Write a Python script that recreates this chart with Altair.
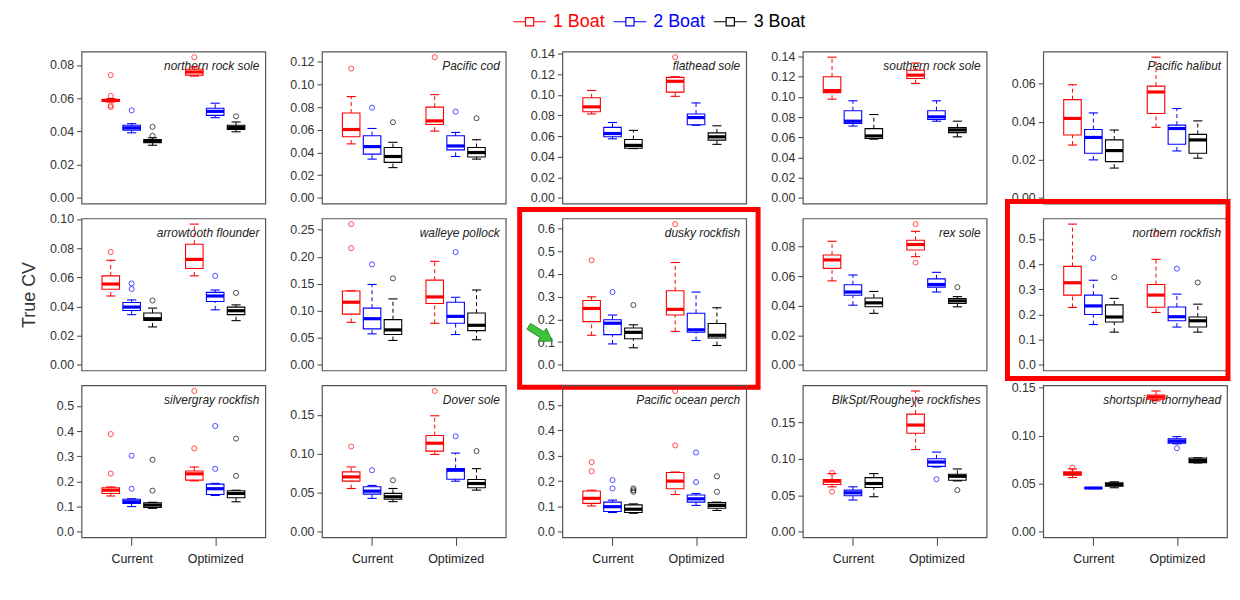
import altair as alt
import pandas as pd

FONT = "Liberation Sans"

species = ["northern rock sole", "Pacific cod", "flathead sole", "southern rock sole", "Pacific halibut",
           "arrowtooth flounder", "walleye pollock", "dusky rockfish", "rex sole", "northern rockfish",
           "silvergray rockfish", "Dover sole", "Pacific ocean perch", "BlkSpt/Rougheye rockfishes",
           "shortspine thornyhead"]
boats = ["1 Boat", "2 Boat", "3 Boat"]
boat_colors = ["#ff0000", "#0000ff", "#000000"]
groups = ["Current", "Optimized"]
group_pos = [2, 6]
highlighted = ["dusky rockfish", "northern rockfish"]

ytick_max = [0.08, 0.12, 0.14, 0.14, 0.06, 0.10, 0.25, 0.6, 0.08, 0.5, 0.5, 0.15, 0.5, 0.15, 0.15]
ytick_step = [0.02, 0.02, 0.02, 0.02, 0.02, 0.02, 0.05, 0.1, 0.02, 0.1, 0.1, 0.05, 0.1, 0.05, 0.05]

# order inside each panel: Current (1, 2, 3 boats), Optimized (1, 2, 3 boats)
whisk_lo = [
    [0.0577, 0.0392, 0.0317, 0.0733, 0.0483, 0.0398],
    [0.0476, 0.0342, 0.0267, 0.0589, 0.0365, 0.0342],
    [0.0815, 0.0574, 0.0479, 0.0986, 0.0705, 0.0520],
    [0.0978, 0.0712, 0.0582, 0.1134, 0.0760, 0.0605],
    [0.0278, 0.0200, 0.0157, 0.0371, 0.0247, 0.0209],
    [0.0472, 0.0344, 0.0260, 0.0610, 0.0377, 0.0303],
    [0.0787, 0.0573, 0.0451, 0.0769, 0.0561, 0.0464],
    [0.130, 0.092, 0.075, 0.147, 0.107, 0.085],
    [0.0567, 0.0403, 0.0348, 0.0731, 0.0492, 0.0392],
    [0.228, 0.160, 0.130, 0.208, 0.150, 0.130],
    [0.142, 0.100, 0.093, 0.202, 0.144, 0.119],
    [0.0555, 0.0428, 0.0386, 0.0992, 0.0649, 0.0534],
    [0.102, 0.076, 0.073, 0.147, 0.104, 0.084],
    [0.0615, 0.0434, 0.0479, 0.1125, 0.0886, 0.0696],
    [0.0564, 0.0450, 0.0458, 0.1362, 0.0915, 0.0716],
]
box_q1 = [
    [0.0582, 0.0408, 0.0333, 0.0739, 0.0497, 0.0412],
    [0.0539, 0.0386, 0.0313, 0.0647, 0.0423, 0.0360],
    [0.0837, 0.0593, 0.0482, 0.1027, 0.0710, 0.0561],
    [0.1043, 0.0738, 0.0588, 0.1183, 0.0777, 0.0647],
    [0.0331, 0.0235, 0.0191, 0.0444, 0.0282, 0.0235],
    [0.0518, 0.0373, 0.0305, 0.0660, 0.0434, 0.0344],
    [0.0939, 0.0665, 0.0561, 0.1135, 0.0769, 0.0634],
    [0.190, 0.133, 0.115, 0.219, 0.143, 0.118],
    [0.0652, 0.0470, 0.0392, 0.0776, 0.0525, 0.0414],
    [0.277, 0.200, 0.170, 0.229, 0.175, 0.150],
    [0.152, 0.112, 0.096, 0.205, 0.148, 0.135],
    [0.0649, 0.0483, 0.0416, 0.1035, 0.0674, 0.0564],
    [0.112, 0.080, 0.076, 0.170, 0.117, 0.093],
    [0.0646, 0.0493, 0.0606, 0.1347, 0.0895, 0.0705],
    [0.0588, 0.0452, 0.0475, 0.1380, 0.0922, 0.0719],
]
box_med = [
    [0.0587, 0.0422, 0.0343, 0.0758, 0.0521, 0.0424],
    [0.0603, 0.0452, 0.0365, 0.0679, 0.0458, 0.0400],
    [0.0884, 0.0625, 0.0510, 0.1132, 0.0780, 0.0593],
    [0.1063, 0.0760, 0.0614, 0.1216, 0.0803, 0.0673],
    [0.0418, 0.0318, 0.0249, 0.0557, 0.0365, 0.0305],
    [0.0554, 0.0396, 0.0316, 0.0723, 0.0472, 0.0371],
    [0.1159, 0.0854, 0.0647, 0.1257, 0.0897, 0.0732],
    [0.248, 0.183, 0.143, 0.244, 0.154, 0.130],
    [0.0709, 0.0492, 0.0419, 0.0813, 0.0543, 0.0432],
    [0.326, 0.234, 0.190, 0.277, 0.191, 0.175],
    [0.165, 0.119, 0.106, 0.230, 0.171, 0.152],
    [0.0704, 0.0521, 0.0449, 0.1136, 0.0789, 0.0619],
    [0.132, 0.099, 0.089, 0.200, 0.130, 0.104],
    [0.0692, 0.0533, 0.0660, 0.1460, 0.0954, 0.0759],
    [0.0605, 0.0455, 0.0492, 0.1403, 0.0943, 0.0743],
]
box_q3 = [
    [0.0592, 0.0437, 0.0352, 0.0774, 0.0540, 0.0437],
    [0.0748, 0.0548, 0.0444, 0.0800, 0.0548, 0.0444],
    [0.0973, 0.0685, 0.0567, 0.1170, 0.0815, 0.0631],
    [0.1200, 0.0864, 0.0686, 0.1264, 0.0864, 0.0696],
    [0.0517, 0.0360, 0.0305, 0.0588, 0.0383, 0.0334],
    [0.0610, 0.0427, 0.0355, 0.0827, 0.0497, 0.0396],
    [0.1366, 0.1049, 0.0836, 0.1568, 0.1159, 0.0958],
    [0.283, 0.198, 0.162, 0.326, 0.227, 0.182],
    [0.0742, 0.0541, 0.0452, 0.0842, 0.0581, 0.0448],
    [0.391, 0.277, 0.238, 0.319, 0.230, 0.190],
    [0.175, 0.129, 0.115, 0.241, 0.189, 0.163],
    [0.0768, 0.0577, 0.0492, 0.1234, 0.0810, 0.0670],
    [0.161, 0.117, 0.106, 0.234, 0.145, 0.115],
    [0.0714, 0.0570, 0.0741, 0.1610, 0.0999, 0.0787],
    [0.0623, 0.0458, 0.0509, 0.1424, 0.0967, 0.0767],
]
whisk_hi = [
    [0.0598, 0.0447, 0.0362, 0.0788, 0.0570, 0.0457],
    [0.0893, 0.0612, 0.0490, 0.0910, 0.0577, 0.0513],
    [0.1043, 0.0732, 0.0656, 0.1176, 0.0922, 0.0700],
    [0.1394, 0.0962, 0.0826, 0.1336, 0.0962, 0.0760],
    [0.0595, 0.0447, 0.0357, 0.0740, 0.0470, 0.0405],
    [0.0717, 0.0445, 0.0389, 0.0965, 0.0513, 0.0411],
    [0.1370, 0.1488, 0.1220, 0.1915, 0.1250, 0.1385],
    [0.299, 0.219, 0.176, 0.450, 0.320, 0.251],
    [0.0835, 0.0607, 0.0496, 0.0902, 0.0625, 0.0461],
    [0.559, 0.336, 0.264, 0.419, 0.281, 0.241],
    [0.178, 0.131, 0.117, 0.257, 0.192, 0.165],
    [0.0831, 0.0594, 0.0555, 0.1488, 0.1009, 0.0810],
    [0.164, 0.125, 0.110, 0.236, 0.151, 0.117],
    [0.0796, 0.0615, 0.0796, 0.1926, 0.1090, 0.0859],
    [0.0654, 0.0460, 0.0520, 0.1465, 0.0990, 0.0770],
]
outliers = [
    [[0.0739, 0.0614, 0.0556, 0.0547], [0.0527], [0.0428, 0.0374], [0.0847], [], [0.0491]],
    [[0.114], [0.0795], [0.0667], [0.124], [0.076], [0.0702]],
    [[], [], [], [0.1366], [], []],
    [[], [], [], [], [], []],
    [[], [], [], [], [], []],
    [[0.0773], [0.0558, 0.0520], [0.0441], [], [0.0610], [0.0493]],
    [[0.2605, 0.2160], [0.186], [0.160], [], [0.2086], []],
    [[0.46], [0.32], [0.263], [0.619], [], []],
    [[], [], [], [0.0951, 0.0691], [], [0.0525]],
    [[], [0.424], [0.348], [0.52], [0.382], [0.327]],
    [[0.388, 0.231], [0.302, 0.171], [0.286, 0.163], [0.559, 0.331], [0.420, 0.250], [0.370, 0.222]],
    [[0.1094], [0.0789], [0.0661], [0.1806], [0.1225], [0.1035]],
    [[0.275, 0.239], [0.204, 0.171], [0.171, 0.164, 0.158], [0.556, 0.341], [0.313, 0.196], [0.219, 0.158]],
    [[0.0805, 0.0547], [], [], [], [0.0719], [0.0570]],
    [[0.0667], [], [], [], [0.0870], []],
]

# ---------------- layout / style ----------------
W, H = 185, 153
NCOL = 5
XDOM = [-0.4, 8.4]
BOX_HALF = 0.42
CAP_HALF = 0.22
FRAME_OFFSETS = {"dusky rockfish": (-43, W + 12, -9, H + 17),
                 "northern rockfish": (-36, W + 1, -17, H + 8)}

color_scale = alt.Scale(domain=boats, range=boat_colors)

label_color_expr = "'" + boat_colors[-1] + "'"
for b, c in reversed(list(zip(boats[:-1], boat_colors[:-1]))):
    label_color_expr = f"datum.label == '{b}' ? '{c}' : ({label_color_expr})"

# symbol: line with an open square in the middle (R legend with lines + pch 0)
legend = alt.Legend(
    orient="none", legendX=441, legendY=-40, direction="horizontal", title=None,
    labelFontSize=18, labelFont=FONT, labelColor=alt.ExprRef(label_color_expr),
    symbolType="M-1.83,0H-0.46M0.46,0H1.83M-0.46,-0.46H0.46V0.46H-0.46Z",
    symbolSize=324, symbolStrokeWidth=1.2, symbolFillColor="white",
    labelOffset=13.5, columnPadding=6, padding=0,
)

x_label_expr = f"datum.value == {group_pos[0]} ? '{groups[0]}' : '{groups[1]}'"

ARROW_PATH = "M-1,-0.25H0.15V-0.55L1,0L0.15,0.55V0.25H-1Z"


def stroke_enc():
    return alt.Stroke("boat:N", scale=color_scale, legend=legend)


def make_panel(i):
    name = species[i]
    row = i // NCOL
    box_rows, out_rows = [], []
    for j in range(6):
        g, b = divmod(j, 3)
        pos = group_pos[g] + (b - 1)
        box_rows.append({"boat": boats[b], "pos": pos, "lo": whisk_lo[i][j], "q1": box_q1[i][j],
                         "med": box_med[i][j], "q3": box_q3[i][j], "hi": whisk_hi[i][j]})
        for v in outliers[i][j]:
            out_rows.append({"boat": boats[b], "pos": pos, "v": v})
    bdf = pd.DataFrame(box_rows)
    odf = pd.DataFrame(out_rows, columns=["boat", "pos", "v"])
    ymax = max([r["hi"] for r in box_rows] + [r["v"] for r in out_rows])
    ys = alt.Scale(domain=[-0.04 * ymax, 1.04 * ymax], nice=False, zero=False)
    xs = alt.Scale(domain=XDOM, nice=False, zero=False)

    step = ytick_step[i]
    n = int(round(ytick_max[i] / step))
    ticks = [round(k * step, 4) for k in range(n + 1)]
    fmt = ".1f" if abs(step - 0.1) < 1e-9 else ".2f"

    yaxis = alt.Axis(values=ticks, format=fmt, grid=False, domain=False, tickSize=5, tickColor="#444",
                     labelColor="#333", labelFontSize=12.5, labelFont=FONT, labelPadding=3,
                     minExtent=40, maxExtent=40,
                     title=("True CV" if i == 5 else None), titleFontSize=18, titleFont=FONT,
                     titleFontWeight="normal", titleColor="#333", titlePadding=3)
    if row == 2:
        xaxis = alt.Axis(values=group_pos, labelExpr=x_label_expr, grid=False, domain=False, tickSize=8,
                         tickColor="#444", labelColor="#222", labelFontSize=12.5, labelFont=FONT,
                         labelPadding=7, labelAngle=0, title=None)
    else:
        xaxis = None

    base = alt.Chart(bdf)
    title = alt.Chart(pd.DataFrame({"name": [name]})).mark_text(
        align="right", baseline="middle", fontStyle="italic", fontSize=12, font=FONT, color="#222"
    ).encode(x=alt.value(W - 6), y=alt.value(15), text="name:N")

    box = base.transform_calculate(
        xl=f"datum.pos - {BOX_HALF}", xr=f"datum.pos + {BOX_HALF}"
    ).mark_rect(fill="white", strokeWidth=1.1).encode(
        x=alt.X("xl:Q", scale=xs, axis=xaxis), x2="xr:Q",
        y=alt.Y("q1:Q", scale=ys, axis=yaxis), y2="q3:Q", stroke=stroke_enc())
    wlo = base.mark_rule(strokeDash=[4, 3], strokeWidth=1).encode(
        x=alt.X("pos:Q", scale=xs, axis=xaxis), y=alt.Y("lo:Q", scale=ys, axis=yaxis), y2="q1:Q",
        stroke=stroke_enc())
    whi = base.mark_rule(strokeDash=[4, 3], strokeWidth=1).encode(
        x=alt.X("pos:Q", scale=xs, axis=xaxis), y=alt.Y("q3:Q", scale=ys, axis=yaxis), y2="hi:Q",
        stroke=stroke_enc())
    caps = base.transform_calculate(
        cl=f"datum.pos - {CAP_HALF}", cr=f"datum.pos + {CAP_HALF}"
    ).transform_fold(["lo", "hi"], as_=["which", "cv"]).mark_rule(strokeWidth=1.1).encode(
        x=alt.X("cl:Q", scale=xs, axis=xaxis), x2="cr:Q", y=alt.Y("cv:Q", scale=ys, axis=yaxis),
        stroke=stroke_enc())
    med = base.transform_calculate(
        xl=f"datum.pos - {BOX_HALF}", xr=f"datum.pos + {BOX_HALF}"
    ).mark_rule(strokeWidth=3.2).encode(
        x=alt.X("xl:Q", scale=xs, axis=xaxis), x2="xr:Q", y=alt.Y("med:Q", scale=ys, axis=yaxis),
        stroke=stroke_enc())
    outl = alt.Chart(odf).mark_point(shape="circle", filled=False, size=26, strokeWidth=1).encode(
        x=alt.X("pos:Q", scale=xs, axis=xaxis), y=alt.Y("v:Q", scale=ys, axis=yaxis), stroke=stroke_enc())

    layers = [title, box, wlo, whi, caps, med, outl]
    if name in highlighted:
        x0, x1, y0, y1 = FRAME_OFFSETS[name]
        frame = alt.Chart(pd.DataFrame({"a": [0]})).mark_rect(
            fillOpacity=0, stroke="#ff0000", strokeWidth=5
        ).encode(x=alt.value(x0), x2=alt.value(x1), y=alt.value(y0), y2=alt.value(y1))
        layers.append(frame)
        if name == "dusky rockfish":
            arrow = alt.Chart(pd.DataFrame({"a": [0]})).mark_point(
                shape=ARROW_PATH, filled=True, fill="#3cc43c", stroke="#1f7f1f", strokeWidth=0.8,
                size=784, angle=32, opacity=1
            ).encode(x=alt.value(-22), y=alt.value(116))
            layers.append(arrow)
    return alt.layer(*layers).properties(width=W, height=H)


panels = [make_panel(i) for i in range(len(species))]

chart = alt.concat(
    *panels, columns=NCOL, spacing={"row": 15, "column": 57}, bounds="flush"
).properties(
    padding={"left": 12, "top": 2, "right": 0, "bottom": 2}
).configure_view(stroke="#555", strokeWidth=1.2)

chart.save("out.html", embed_options={"renderer": "svg", "actions": False})
